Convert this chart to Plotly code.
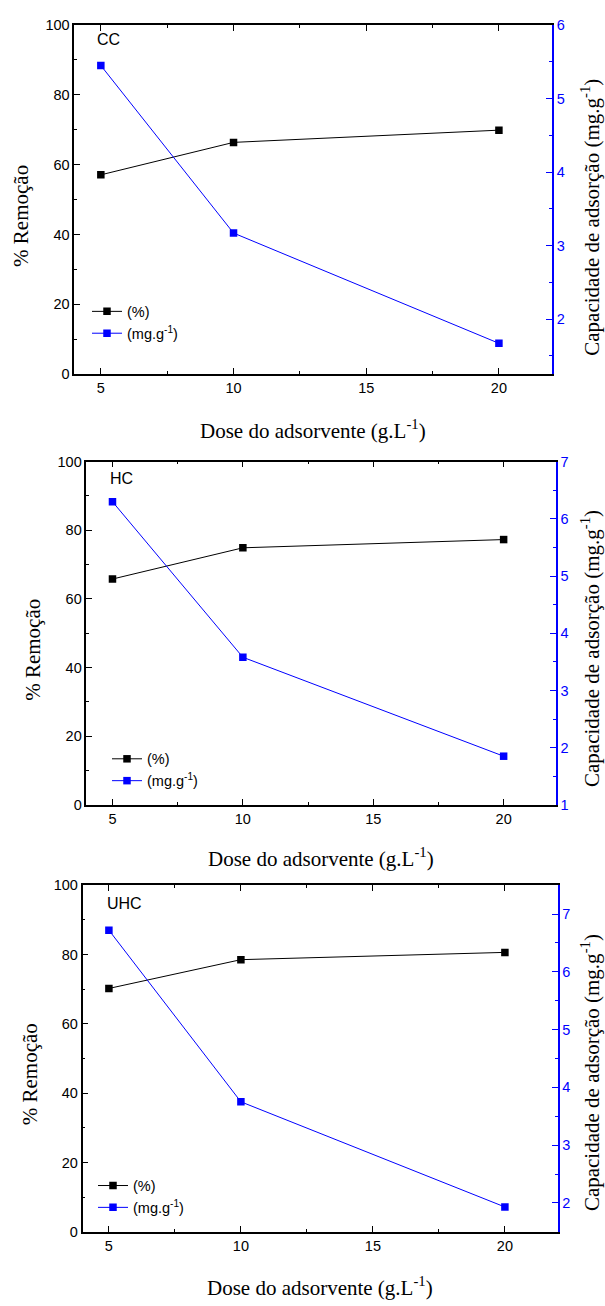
import plotly.graph_objects as go

# Adsorbent dose (g/L)
dose = [5, 10, 20]

# Removal (%) and adsorption capacity (mg/g) for each material
cc_remocao = [57.1, 66.4, 69.9]
cc_capacidade = [5.45, 3.17, 1.67]

hc_remocao = [65.8, 74.9, 77.3]
hc_capacidade = [6.30, 3.58, 1.85]

uhc_remocao = [70.2, 78.5, 80.6]
uhc_capacidade = [6.72, 3.75, 1.93]

materiais = ["CC", "HC", "UHC"]
x_ticks = [5, 10, 15, 20]

W, H = 605, 1306
BLUE = "#0000FF"
SANS = "Liberation Sans, Arial, sans-serif"
SERIF = "Liberation Serif, Times New Roman, serif"


def px_x(v):
    return v / W


def px_y(v):
    return 1 - v / H


# panel boxes in pixels: (left, right, top, bottom)
boxes = [
    (74.3, 552.0, 17.3, 370.7),
    (86.4, 555.8, 459.3, 806.7),
    (82.5, 557.7, 888.0, 1239.0),
]
right_ranges = [[1.25, 6.0], [1.0, 7.0], [1.5, 7.5]]
series = [
    (cc_remocao, cc_capacidade),
    (hc_remocao, hc_capacidade),
    (uhc_remocao, uhc_capacidade),
]
# label / legend / title placement per panel (pixels)
tag_pos = [(95, 32), (108, 476), (105.4, 906.7)]
legend_pos = [(87, 291), (107, 744), (93, 1176)]
left_title = [(21.5, 211), (32.8, 650), (29.5, 1080)]
right_title = [(590.6, 211.7), (590.6, 648.3), (590.6, 1077.7)]
bottom_title = [426.7, 860.0, 1294.3]

fig = go.Figure()
layout = dict(
    width=W,
    height=H,
    margin=dict(l=0, r=0, t=0, b=0),
    paper_bgcolor="white",
    plot_bgcolor="white",
    showlegend=True,
    annotations=[],
)

for i, (box, rr, (rem, cap)) in enumerate(zip(boxes, right_ranges, series)):
    l, r, t, b = box
    xa = "x" if i == 0 else f"x{i + 1}"
    ya_left = f"y{2 * i + 1}" if i else "y"
    ya_right = f"y{2 * i + 2}"
    leg = "legend" if i == 0 else f"legend{i + 1}"

    fig.add_trace(go.Scatter(
        x=dose, y=rem, name="(%)", mode="lines+markers",
        line=dict(color="black", width=1),
        marker=dict(symbol="square", size=7.5, color="black"),
        xaxis=xa, yaxis=ya_left, legend=leg,
    ))
    fig.add_trace(go.Scatter(
        x=dose, y=cap, name="(mg.g<sup>-1</sup>)", mode="lines+markers",
        line=dict(color=BLUE, width=1),
        marker=dict(symbol="square", size=7.5, color=BLUE),
        xaxis=xa, yaxis=ya_right, legend=leg,
    ))

    xkey = "xaxis" if i == 0 else f"xaxis{i + 1}"
    ylkey = "yaxis" if i == 0 else f"yaxis{2 * i + 1}"
    yrkey = f"yaxis{2 * i + 2}"
    layout[xkey] = dict(
        domain=[px_x(l), px_x(r)], anchor=ya_left,
        range=[4, 22], tickmode="array", tickvals=x_ticks,
        ticks="inside", ticklen=6, tickwidth=1.2, tickcolor="black",
        minor=dict(ticks="inside", dtick=2.5, tick0=0, ticklen=3,
                   tickwidth=1.2, tickcolor="black"),
        showline=True, linecolor="black", linewidth=1.5, mirror="ticks",
        showgrid=False, zeroline=False,
        tickfont=dict(family=SANS, size=14.5, color="black"),
    )
    layout[ylkey] = dict(
        domain=[px_y(b), px_y(t)], anchor=xa,
        range=[0, 100], dtick=20, tick0=0,
        ticks="inside", ticklen=6, tickwidth=1.2, tickcolor="black",
        minor=dict(ticks="inside", dtick=10, ticklen=3, tickwidth=1.2,
                   tickcolor="black"),
        showline=True, linecolor="black", linewidth=1.5,
        showgrid=False, zeroline=False,
        tickfont=dict(family=SANS, size=14.5, color="black"),
    )
    layout[yrkey] = dict(
        overlaying=ya_left, side="right", anchor=xa,
        range=rr, dtick=1, tick0=0,
        ticks="inside", ticklen=6, tickwidth=1.2, tickcolor=BLUE,
        minor=dict(ticks="inside", dtick=0.5, ticklen=3, tickwidth=1.2,
                   tickcolor=BLUE),
        showline=True, linecolor=BLUE, linewidth=1.5,
        showgrid=False, zeroline=False,
        tickfont=dict(family=SANS, size=14.5, color=BLUE),
    )

    lx, ly = legend_pos[i]
    layout[leg] = dict(
        x=px_x(lx), y=px_y(ly), xanchor="left", yanchor="top",
        bgcolor="rgba(0,0,0,0)", borderwidth=0, itemwidth=30,
        tracegroupgap=0, traceorder="normal",
        font=dict(family=SANS, size=14.5, color="black"),
    )

    tx, ty = tag_pos[i]
    layout["annotations"].append(dict(
        text=materiais[i], x=px_x(tx), y=px_y(ty), xref="paper", yref="paper",
        xanchor="left", yanchor="middle", showarrow=False,
        font=dict(family=SANS, size=16, color="black"),
    ))
    ax, ay = left_title[i]
    layout["annotations"].append(dict(
        text="% Remoção", x=px_x(ax), y=px_y(ay), xref="paper", yref="paper",
        xanchor="center", yanchor="middle", textangle=-90, showarrow=False,
        font=dict(family=SERIF, size=21, color="black"),
    ))
    bx, by = right_title[i]
    layout["annotations"].append(dict(
        text="Capacidade de adsorção (mg.g<sup>-1</sup>)",
        x=px_x(bx), y=px_y(by), xref="paper", yref="paper",
        xanchor="center", yanchor="middle", textangle=-90, showarrow=False,
        font=dict(family=SERIF, size=21, color="black"),
    ))
    layout["annotations"].append(dict(
        text="Dose do adsorvente (g.L<sup>-1</sup>)",
        x=px_x((l + r) / 2), y=px_y(bottom_title[i]), xref="paper", yref="paper",
        xanchor="center", yanchor="middle", showarrow=False,
        font=dict(family=SERIF, size=21, color="black"),
    ))

fig.update_layout(**layout)
fig.write_html("out.html")
